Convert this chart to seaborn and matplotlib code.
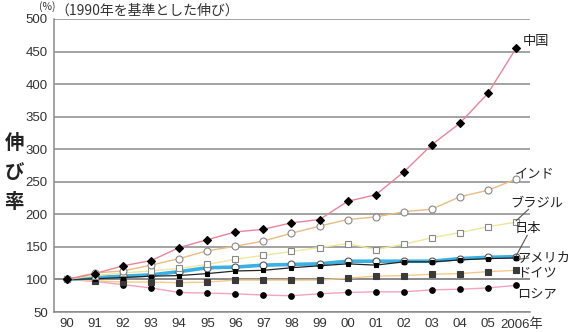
import seaborn as sns
import matplotlib.pyplot as plt
import matplotlib.transforms as mtransforms
import pandas as pd

# years and tick labels
years = list(range(1990, 2007))
tick_labels = ['90', '91', '92', '93', '94', '95', '96', '97', '98', '99',
               '00', '01', '02', '03', '04', '05', '2006年']

# growth relative to 1990 (%)
china = [100, 109, 121, 129, 149, 161, 173, 177, 187, 192, 220, 230, 265, 307, 340, 386, 455]
india = [100, 110, 113, 122, 132, 144, 151, 159, 171, 182, 192, 196, 204, 208, 227, 237, 254]
brazil = [100, 106, 110, 113, 117, 123, 131, 137, 143, 149, 155, 146, 154, 164, 172, 181, 188]
usa = [100, 103, 105, 107, 112, 118, 119, 122, 123, 124, 128, 128, 128, 128, 132, 134, 135]
japan = [100, 101, 103, 105, 106, 109, 113, 114, 118, 121, 124, 122, 127, 127, 130, 132, 133]
germany = [100, 98, 96, 96, 95, 96, 99, 99, 99, 99, 102, 105, 106, 108, 109, 112, 114]
russia = [100, 97, 92, 87, 80, 79, 78, 76, 75, 78, 80, 81, 81, 84, 85, 87, 91]

sns.set_theme(style='white')
plt.rcParams['font.family'] = ['Liberation Sans', 'Noto Sans CJK JP']
jp = ['Noto Sans CJK JP', 'DejaVu Sans']

fig = plt.figure(figsize=(5.7, 3.32), dpi=100)
ax = fig.add_axes([0.0947, 0.0602, 0.8353, 0.8826])

pos = list(range(len(years)))

# gridlines
for v in range(50, 501, 50):
    ax.axhline(v, color='#8a8a8a', lw=1.1 if v != 100 else 1.4, zorder=0)

def draw(vals, line_color, marker, mfc, mec, ms, lw=1.0):
    df = pd.DataFrame({'x': pos, 'y': vals})
    sns.lineplot(data=df, x='x', y='y', ax=ax, color=line_color, lw=lw,
                 marker=marker, markersize=ms, markerfacecolor=mfc,
                 markeredgecolor=mec, markeredgewidth=0.8)

draw(russia, '#f2a3bb', 'o', 'black', 'black', 4)
draw(germany, '#f5c98a', 's', '#3a3a3a', '#3a3a3a', 4.5)
draw(usa, '#3bb0e2', 'o', 'white', '#555555', 5, lw=2.6)
draw(japan, '#222222', 's', 'black', 'black', 3.5, lw=0.9)
draw(brazil, '#efe79c', 's', 'white', '#888888', 5)
draw(india, '#e9bc82', 'o', 'white', '#888888', 5)
draw(china, '#e8839f', 'D', 'black', 'black', 4)

ax.set_xlim(-0.46, 16.5)
ax.set_ylim(50, 500)
ax.set_xticks(pos)
ax.set_xticklabels(tick_labels)
ax.set_yticks(range(50, 501, 50))
ax.set_xlabel('')
ax.set_ylabel('')
ax.tick_params(axis='both', labelsize=9.5, length=3, width=1,
               direction='out', pad=1.5, colors='#666666', labelcolor='#333333')
# keep "2006" centred on its tick with 年 hanging to the right
last = ax.get_xticklabels()[-1]
last.set_ha('left')
last.set_transform(last.get_transform() +
                   mtransforms.ScaledTranslation(-11 / 72, 0, fig.dpi_scale_trans))
for s in ['top', 'right']:
    ax.spines[s].set_visible(False)
ax.spines['left'].set_color('#8a8a8a')
ax.spines['bottom'].set_color('#8a8a8a')
ax.spines['left'].set_linewidth(1.1)
ax.spines['bottom'].set_linewidth(1.1)

# titles and axis label
fig.text(0.097, 0.998, '(%)', fontsize=7.5, color='#333333', va='top', ha='right',
         family=jp)
fig.text(0.098, 0.968, '（1990年を基準とした伸び）', fontsize=10, color='#333333',
         va='center', family=jp)
fig.text(0.025, 0.48, '伸\nび\n率', fontsize=14, color='#222222', ha='center',
         va='center', linespacing=1.7, family=jp, fontweight='bold')

# series labels
lab = dict(fontsize=9.5, color='#222222', va='center', ha='left', clip_on=False,
           family=jp)
ax.text(16.25, 466, '中国', **lab)
ax.text(15.95, 262, 'インド', **lab)
ax.text(15.8, 218, 'ブラジル', **lab)
ax.text(15.95, 178, '日本', **lab)
ax.text(16.05, 134, 'アメリカ', **lab)
ax.text(16.05, 110, 'ドイツ', **lab)
ax.text(16.05, 77, 'ロシア', **lab)
ax.plot([16.0, 16.45], [190, 208], color='#555555', lw=0.8, clip_on=False)
ax.plot([16.0, 16.4], [136, 168], color='#555555', lw=0.8, clip_on=False)
ax.plot([16.1, 16.45], [131, 133], color='#555555', lw=0.8, clip_on=False)

fig.savefig('out.png', dpi=100)
